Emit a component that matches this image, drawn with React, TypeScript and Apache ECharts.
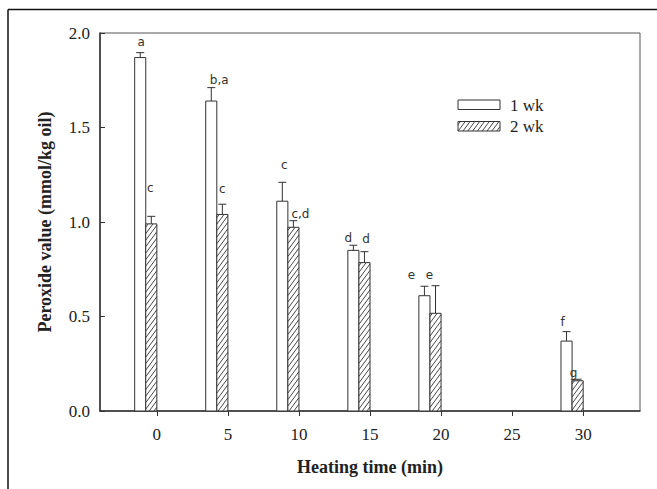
import React, { useEffect, useRef } from "react";
import * as echarts from "echarts";

// ---- data ----
const heatingTimes = [0, 5, 10, 15, 20, 30];
const tickValues = [0, 5, 10, 15, 20, 25, 30];
const wk1Values = [1.87, 1.64, 1.11, 0.85, 0.61, 0.37];
const wk1Errors = [0.026, 0.071, 0.1, 0.027, 0.05, 0.05];
const wk2Values = [0.99, 1.04, 0.972, 0.785, 0.517, 0.16];
const wk2Errors = [0.04, 0.054, 0.035, 0.058, 0.146, 0.008];
const wk1Letters = ["a", "b,a", "c", "d", "e", "f"];
const wk2Letters = ["c", "c", "c,d", "d", "e", "g"];
const seriesNames = ["1 wk", "2 wk"];

// ---- styling (label nudges in px, relative to bar centre / error cap) ----
const wk1Nudge = [[1, -11], [8, -8], [2, -17], [-5, -7], [-13, -11], [-4, -10]];
const wk2Nudge = [[-1, -28], [0, -15], [7, -7], [1.5, -13], [-6, -11], [-4, -6]];

const STROKE = "#333";
const SERIF = '"Liberation Serif", "Times New Roman", serif';

function hatchLines(x0: number, y0: number, w: number, h: number) {
  const slope = 1.35;
  const step = 6.5;
  const out: any[] = [];
  // lines: slope*x + y = c (relative coords), rising to the right
  for (let c = step / 2; c < slope * w + h; c += step) {
    const xa = Math.max(0, (c - h) / slope);
    const xb = Math.min(w, c / slope);
    if (xb <= xa) continue;
    out.push({
      type: "line",
      shape: { x1: x0 + xa, y1: y0 + (c - slope * xa), x2: x0 + xb, y2: y0 + (c - slope * xb) },
      style: { stroke: STROKE, lineWidth: 0.9 },
      silent: true,
    });
  }
  return out;
}

function makeRender(k: number, letters: string[], nudge: number[][]) {
  return (params: any, api: any) => {
    const i = params.dataIndex;
    const t = api.value(0);
    const v = api.value(1);
    const e = api.value(2);
    const base = api.coord([t, 0]);
    const barW = api.size([0.78, 0])[0];
    const left = base[0] - (2 - k) * barW;
    const top = api.coord([t, v])[1];
    const bottom = base[1];
    const cx = left + barW / 2;
    const capY = api.coord([t, v + e])[1];
    const children: any[] = [
      {
        type: "rect",
        shape: { x: left, y: top, width: barW, height: bottom - top },
        style: { fill: "#fff", stroke: STROKE, lineWidth: 1 },
      },
    ];
    if (k === 1) children.push(...hatchLines(left, top, barW, bottom - top));
    children.push(
      {
        type: "line",
        shape: { x1: cx, y1: top, x2: cx, y2: capY },
        style: { stroke: STROKE, lineWidth: 1 },
      },
      {
        type: "line",
        shape: { x1: cx - 4, y1: capY, x2: cx + 4, y2: capY },
        style: { stroke: STROKE, lineWidth: 1 },
      },
      {
        type: "text",
        style: {
          text: letters[i],
          x: cx + nudge[i][0],
          y: capY + nudge[i][1],
          align: "center",
          verticalAlign: "middle",
          font: '12px "DejaVu Sans", sans-serif',
          fill: "#333",
        },
      }
    );
    return { type: "group", children };
  };
}

export default function App() {
  const ref = useRef<HTMLDivElement>(null);
  useEffect(() => {
    if (!ref.current) return;
    const chart = echarts.init(ref.current, undefined, { renderer: "svg" });
    const legendX = 458;
    const legendItems = seriesNames.map((name, j) => {
      const y = 100 + j * 21.5;
      const kids: any[] = [
        {
          type: "rect",
          shape: { x: legendX, y, width: 42, height: 9.5 },
          style: { fill: "#fff", stroke: STROKE, lineWidth: 1 },
        },
      ];
      if (j === 1) kids.push(...hatchLines(legendX, y, 42, 9.5));
      kids.push({
        type: "text",
        style: {
          text: name,
          x: 510,
          y: y + 5,
          align: "left",
          verticalAlign: "middle",
          font: `17px ${SERIF}`,
          fill: "#222",
        },
      });
      return { type: "group", children: kids };
    });
    chart.setOption({
      animation: false,
      backgroundColor: "#fff",
      grid: {
        left: 100,
        right: 17,
        top: 33,
        bottom: 78,
        show: true,
        borderColor: "#555",
        borderWidth: 1,
        backgroundColor: "transparent",
      },
      xAxis: {
        type: "value",
        min: -4,
        max: 34,
        name: "Heating time (min)",
        nameLocation: "middle",
        nameGap: 47,
        nameTextStyle: { fontFamily: SERIF, fontWeight: "bold", fontSize: 18, color: "#222" },
        axisLine: { show: true, onZero: false, lineStyle: { color: STROKE, width: 1.5 } },
        axisTick: { show: true, inside: false, length: 5, customValues: tickValues, lineStyle: { color: STROKE } },
        axisLabel: {
          customValues: tickValues,
          margin: 15,
          fontFamily: SERIF,
          fontSize: 17,
          color: "#222",
        },
        splitLine: { show: false },
      },
      yAxis: {
        type: "value",
        min: 0,
        max: 2,
        interval: 0.5,
        name: "Peroxide value (mmol/kg oil)",
        nameLocation: "middle",
        nameGap: 46,
        nameTextStyle: { fontFamily: SERIF, fontWeight: "bold", fontSize: 18, color: "#222" },
        axisLine: { show: true, onZero: false, lineStyle: { color: STROKE, width: 1.5 } },
        axisTick: { show: true, inside: true, length: 5, lineStyle: { color: STROKE } },
        axisLabel: {
          margin: 10,
          fontFamily: SERIF,
          fontSize: 17,
          color: "#222",
          formatter: (v: number) => v.toFixed(1),
        },
        splitLine: { show: false },
      },
      graphic: [
        {
          type: "line",
          shape: { x1: 8, y1: 9.5, x2: 657, y2: 9.5 },
          style: { stroke: "#111", lineWidth: 1.5 },
        },
        {
          type: "line",
          shape: { x1: 8, y1: 9.5, x2: 8, y2: 489 },
          style: { stroke: "#111", lineWidth: 1.5 },
        },
        ...legendItems,
      ],
      series: [
        {
          type: "custom",
          name: seriesNames[0],
          clip: false,
          renderItem: makeRender(0, wk1Letters, wk1Nudge),
          encode: { x: 0, y: 1 },
          data: heatingTimes.map((t, i) => [t, wk1Values[i], wk1Errors[i]]),
        },
        {
          type: "custom",
          name: seriesNames[1],
          clip: false,
          renderItem: makeRender(1, wk2Letters, wk2Nudge),
          encode: { x: 0, y: 1 },
          data: heatingTimes.map((t, i) => [t, wk2Values[i], wk2Errors[i]]),
        },
      ],
    });
    return () => chart.dispose();
  }, []);
  return (
    <div
      ref={ref}
      style={{ position: "fixed", left: 0, top: 0, width: 657, height: 489, background: "#fff" }}
    />
  );
}
